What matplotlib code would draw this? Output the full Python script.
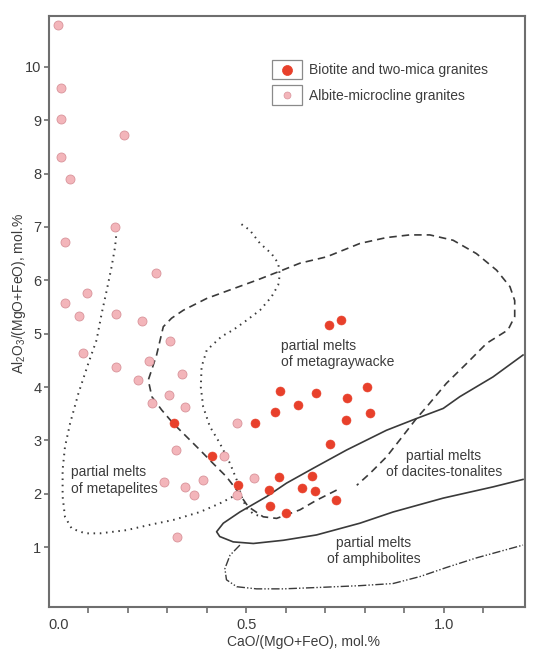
import matplotlib
matplotlib.use("Agg")
import matplotlib.pyplot as plt
from matplotlib.legend_handler import HandlerBase
from matplotlib.lines import Line2D
from matplotlib.patches import Rectangle

plt.rcParams['font.family'] = ['Liberation Sans', 'DejaVu Sans']
plt.rcParams['mathtext.fontset'] = 'custom'
plt.rcParams['mathtext.rm'] = 'Liberation Sans'

TEXT = '#3c3c3c'
LINE = '#3a3a3a'
RED = '#e8402b'
PINK = '#f3b5ba'
PINK_EDGE = '#d9939a'

# Biotite and two-mica granites
red_x = [0.317, 0.413, 0.480, 0.522, 0.573, 0.585, 0.630, 0.582, 0.558, 0.560, 0.602, 0.676,
         0.754, 0.807, 0.752, 0.813, 0.712, 0.666, 0.642, 0.674, 0.727, 0.710, 0.739]
red_y = [3.32, 2.71, 2.16, 3.32, 3.53, 3.92, 3.67, 2.32, 2.08, 1.78, 1.65, 3.88,
         3.79, 4.00, 3.38, 3.51, 2.94, 2.33, 2.11, 2.05, 1.88, 5.16, 5.25]

# Albite-microcline granites
pink_x = [0.024, 0.031, 0.032, 0.030, 0.054, 0.190, 0.168, 0.042, 0.271, 0.097, 0.042, 0.076,
          0.171, 0.235, 0.307, 0.254, 0.338, 0.227, 0.305, 0.262, 0.345, 0.476, 0.322, 0.444,
          0.519, 0.292, 0.390, 0.346, 0.368, 0.476, 0.324, 0.086, 0.169]
pink_y = [10.78, 9.61, 9.03, 8.30, 7.89, 8.73, 6.99, 6.71, 6.13, 5.76, 5.58, 5.34,
          5.37, 5.23, 4.87, 4.49, 4.24, 4.13, 3.86, 3.71, 3.62, 3.33, 2.83, 2.71,
          2.30, 2.23, 2.26, 2.13, 1.98, 1.97, 1.19, 4.64, 4.37]

# field boundaries
metapelite_x = [0.172, 0.168, 0.159, 0.147, 0.134, 0.121, 0.100, 0.075, 0.054, 0.041, 0.035,
                0.035, 0.041, 0.058, 0.092, 0.130, 0.197, 0.256, 0.315, 0.383, 0.433, 0.467]
metapelite_y = [6.94, 6.63, 6.25, 5.82, 5.38, 4.88, 4.44, 3.88, 3.32, 2.88, 2.45,
                1.95, 1.57, 1.35, 1.26, 1.26, 1.32, 1.42, 1.51, 1.66, 1.82, 1.95]

middot_x = [0.488, 0.509, 0.535, 0.564, 0.581, 0.585, 0.581, 0.564, 0.535, 0.501, 0.467, 0.438,
            0.400, 0.387, 0.385, 0.391, 0.408, 0.433, 0.459, 0.476, 0.488, 0.501, 0.519, 0.540]
middot_y = [7.05, 6.94, 6.69, 6.50, 6.32, 6.10, 5.91, 5.69, 5.44, 5.25, 5.07, 4.95,
            4.69, 4.38, 4.00, 3.63, 3.26, 2.95, 2.57, 2.26, 1.95, 1.73, 1.62, 1.57]

graywacke_x = [0.729, 0.678, 0.636, 0.577, 0.543, 0.505, 0.476, 0.450, 0.416, 0.383, 0.349, 0.315,
               0.286, 0.261, 0.252, 0.273, 0.282, 0.290, 0.311, 0.341, 0.400, 0.459, 0.526, 0.585,
               0.636, 0.704, 0.788, 0.855, 0.914, 0.965, 1.024, 1.083, 1.134, 1.168, 1.180, 1.180,
               1.163, 1.109, 1.058, 1.007, 0.957, 0.931, 0.889, 0.855, 0.813, 0.780]
graywacke_y = [2.07, 1.88, 1.70, 1.54, 1.57, 1.76, 2.07, 2.32, 2.57, 2.82, 3.07, 3.32,
               3.57, 3.82, 4.13, 4.60, 4.88, 5.13, 5.29, 5.44, 5.66, 5.82, 6.00, 6.17,
               6.32, 6.44, 6.69, 6.80, 6.85, 6.85, 6.75, 6.50, 6.19, 5.88, 5.62, 5.32,
               5.07, 4.82, 4.44, 4.07, 3.63, 3.41, 3.01, 2.69, 2.38, 2.16]

tonalite_x = [1.201, 1.125, 1.041, 0.999, 0.931, 0.855, 0.754, 0.670, 0.602, 0.552, 0.484, 0.442,
              0.425, 0.433, 0.467, 0.518, 0.594, 0.678, 0.788, 0.872, 0.999, 1.125, 1.201]
tonalite_y = [4.60, 4.19, 3.82, 3.60, 3.41, 3.19, 2.82, 2.48, 2.20, 1.95, 1.66, 1.45,
              1.29, 1.20, 1.10, 1.07, 1.13, 1.23, 1.45, 1.66, 1.92, 2.13, 2.27]

amphibolite_x = [0.484, 0.459, 0.446, 0.450, 0.476, 0.526, 0.594, 0.695, 0.788, 0.872, 0.940,
                 1.007, 1.083, 1.142, 1.201]
amphibolite_y = [1.04, 0.85, 0.60, 0.39, 0.26, 0.22, 0.22, 0.25, 0.28, 0.32, 0.45,
                 0.62, 0.80, 0.92, 1.04]


class BoxedMarker(HandlerBase):
    # marker drawn inside a small frame, as in the original legend
    def create_artists(self, legend, orig_handle, xdescent, ydescent, width, height, fontsize, trans):
        rect = Rectangle((-xdescent, -ydescent - 0.3 * height), width, 1.6 * height,
                         facecolor='white', edgecolor='#8a8a8a', lw=0.9, transform=trans)
        dot = Line2D([width / 2 - xdescent], [height / 2 - ydescent], ls='none', marker='o',
                     ms=orig_handle.get_markersize(), mfc=orig_handle.get_markerfacecolor(),
                     mec=orig_handle.get_markeredgecolor(), mew=0.5, transform=trans)
        return [rect, dot]


fig = plt.figure(figsize=(5.5, 6.65), dpi=100)
ax = fig.add_axes([0.0887, 0.0872, 0.8658, 0.8887])

ax.plot(metapelite_x, metapelite_y, color=LINE, lw=1.4, ls=(0, (0.8, 2.4)))
ax.plot(middot_x, middot_y, color=LINE, lw=1.4, ls=(0, (0.8, 2.4)))
ax.plot(graywacke_x, graywacke_y, color=LINE, lw=1.2, ls=(0, (4.5, 3)))
ax.plot(tonalite_x, tonalite_y, color=LINE, lw=1.2)
ax.plot(amphibolite_x, amphibolite_y, color=LINE, lw=1.0, ls=(0, (6, 1.5, 1, 1.5, 1, 1.5)))

ax.scatter(pink_x, pink_y, s=42, c=PINK, edgecolors=PINK_EDGE, linewidths=0.6, zorder=3)
ax.scatter(red_x, red_y, s=42, c=RED, edgecolors=RED, linewidths=0.4, zorder=4)

ax.text(0.588, 4.62, 'partial melts\nof metagraywacke', fontsize=10, color=TEXT, va='center', ha='left')
ax.text(1.001, 2.56, 'partial melts\nof dacites-tonalites', fontsize=10, color=TEXT,
        va='center', ha='center', multialignment='center')
ax.text(0.823, 0.93, 'partial melts\nof amphibolites', fontsize=10, color=TEXT,
        va='center', ha='center', multialignment='center')
ax.text(0.056, 2.25, 'partial melts\nof metapelites', fontsize=10, color=TEXT, va='center', ha='left')

h_red = Line2D([], [], ls='none', marker='o', ms=7.2, mfc=RED, mec=RED)
h_pink = Line2D([], [], ls='none', marker='o', ms=5.0, mfc=PINK, mec=PINK_EDGE)
ax.legend([h_red, h_pink], ['Biotite and two-mica granites', 'Albite-microcline granites'],
          handler_map={Line2D: BoxedMarker()}, loc='upper left', bbox_to_anchor=(0.468, 0.92),
          frameon=False, fontsize=10, labelcolor=TEXT, borderpad=0, borderaxespad=0,
          handlelength=2.2, handleheight=1.0, handletextpad=0.5, labelspacing=0.85)

ax.set_xlim(0, 1.206)
ax.set_ylim(-0.12, 10.95)

xt = [0.0, 0.1, 0.2, 0.3, 0.4, 0.5, 0.6, 0.7, 0.8, 0.9, 1.0, 1.1]
ax.set_xticks(xt)
ax.set_xticklabels(['0.0' if v == 0 else ('0.5' if v == 0.5 else ('1.0' if v == 1.0 else '')) for v in xt])
ax.xaxis.get_major_ticks()[0].tick1line.set_visible(False)
ax.get_xticklabels()[0].set_horizontalalignment('left')
ax.set_yticks([1, 2, 3, 4, 5, 6, 7, 8, 9, 10])

ax.tick_params(axis='x', direction='out', length=4.5, width=1.2, color='#6e6e6e',
               labelsize=10.5, labelcolor=TEXT, pad=3.5)
ax.tick_params(axis='y', direction='out', length=3.8, width=1.2, color='#6e6e6e',
               labelsize=10.5, labelcolor=TEXT, pad=1.5)
for sp in ax.spines.values():
    sp.set_color('#6e6e6e')
    sp.set_linewidth(1.5)

ax.set_xlabel('CaO/(MgO+FeO), mol.%', fontsize=10, color=TEXT)
ax.xaxis.set_label_coords(0.534, -0.047)
ax.set_ylabel(r'Al$_\mathregular{2}$O$_\mathregular{3}$/(MgO+FeO), mol.%', fontsize=10, color=TEXT)
ax.yaxis.set_label_coords(-0.044, 0.53)

fig.savefig('out.png', dpi=100)
